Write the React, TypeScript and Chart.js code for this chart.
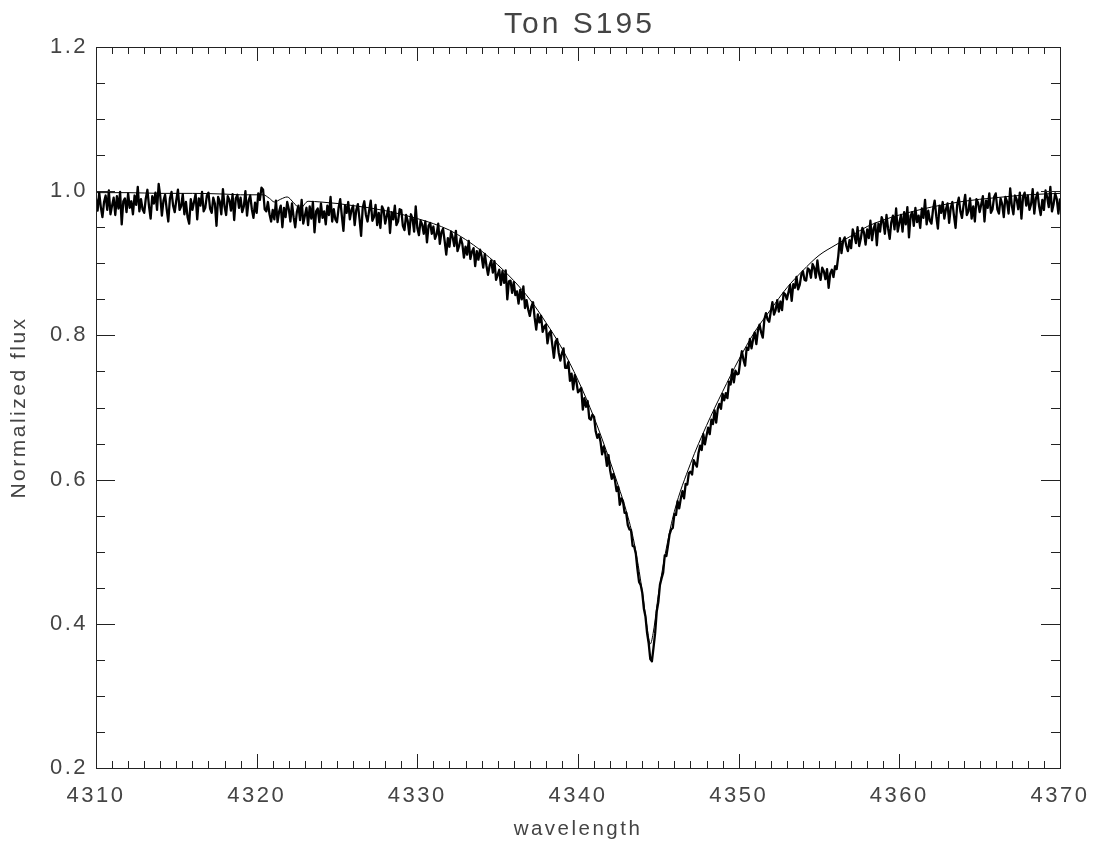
import React, { useEffect, useRef } from "react";
import { Chart, registerables } from "chart.js";

Chart.register(...registerables);

// ---- text ----
const TITLE = "Ton S195";
const X_TITLE = "wavelength";
const Y_TITLE = "Normalized flux";

// ---- axes ----
const X_MIN = 4310;
const X_MAX = 4370;
const X_MAJOR_STEP = 10;
const X_MINOR_STEP = 1;
const Y_MIN = 0.2;
const Y_MAX = 1.2;
const Y_MAJOR_STEP = 0.2;
const Y_MINOR_STEP = 0.05;

// ---- observed spectrum (sampled every 0.1 Å from 4310 Å, one row per Å) ----
const obsStart = 4310;
const obsStep = 0.1;
const obsFlux = [
  0.990, 0.973, 0.998, 0.978, 0.964, 0.985, 0.994, 0.974, 1.001, 0.968, // 4310
  0.980, 0.991, 0.967, 0.993, 0.976, 0.999, 0.954, 0.986, 0.990, 0.971, // 4311
  0.997, 0.977, 0.986, 0.968, 0.994, 0.981, 1.006, 0.972, 0.989, 0.975, // 4312
  0.970, 0.990, 1.002, 0.979, 0.962, 0.993, 0.983, 0.998, 0.974, 1.010, // 4313
  0.993, 0.966, 0.987, 0.995, 0.975, 0.958, 0.990, 0.999, 0.980, 0.971, // 4314
  0.988, 1.002, 0.974, 0.979, 0.996, 0.968, 0.985, 0.964, 0.955, 0.989, // 4315
  0.974, 0.985, 0.996, 0.961, 0.990, 0.980, 0.999, 0.972, 0.977, 0.994, // 4316
  0.998, 0.976, 0.970, 0.991, 0.983, 0.952, 0.992, 0.986, 0.968, 1.003, // 4317
  0.979, 0.967, 0.993, 0.988, 0.973, 0.996, 0.960, 0.990, 0.995, 0.977, // 4318
  0.991, 0.971, 0.979, 1.000, 0.966, 0.987, 0.994, 0.975, 0.963, 0.984, // 4319
  0.970, 0.997, 0.988, 1.005, 1.002, 0.975, 0.972, 0.985, 0.968, 0.958, // 4320
  0.974, 0.961, 0.987, 0.957, 0.972, 0.980, 0.950, 0.977, 0.964, 0.985, // 4321
  0.975, 0.958, 0.983, 0.964, 0.950, 0.971, 0.980, 0.960, 0.988, 0.955, // 4322
  0.966, 0.977, 0.953, 0.979, 0.962, 0.985, 0.943, 0.972, 0.976, 0.957, // 4323
  0.983, 0.963, 0.972, 0.954, 0.980, 0.967, 0.992, 0.958, 0.975, 0.961, // 4324
  0.957, 0.977, 0.989, 0.966, 0.945, 0.980, 0.970, 0.985, 0.961, 0.974, // 4325
  0.980, 0.953, 0.974, 0.982, 0.962, 0.938, 0.977, 0.986, 0.967, 0.958, // 4326
  0.973, 0.987, 0.959, 0.964, 0.981, 0.953, 0.970, 0.949, 0.979, 0.974, // 4327
  0.955, 0.966, 0.977, 0.942, 0.971, 0.961, 0.980, 0.953, 0.958, 0.975, // 4328
  0.974, 0.952, 0.946, 0.967, 0.959, 0.940, 0.968, 0.962, 0.944, 0.979, // 4329
  0.949, 0.939, 0.959, 0.954, 0.941, 0.958, 0.929, 0.952, 0.956, 0.941, // 4330
  0.951, 0.934, 0.940, 0.955, 0.927, 0.943, 0.948, 0.931, 0.912, 0.935, // 4331
  0.923, 0.944, 0.936, 0.924, 0.945, 0.917, 0.924, 0.935, 0.927, 0.908, // 4332
  0.923, 0.912, 0.931, 0.906, 0.916, 0.921, 0.896, 0.917, 0.905, 0.919, // 4333
  0.910, 0.894, 0.913, 0.897, 0.884, 0.897, 0.904, 0.887, 0.903, 0.877, // 4334
  0.884, 0.891, 0.870, 0.889, 0.873, 0.890, 0.850, 0.875, 0.876, 0.859, // 4335
  0.874, 0.856, 0.861, 0.844, 0.863, 0.850, 0.868, 0.838, 0.849, 0.836, // 4336
  0.827, 0.840, 0.846, 0.825, 0.808, 0.829, 0.818, 0.827, 0.805, 0.812, // 4337
  0.815, 0.789, 0.803, 0.806, 0.787, 0.769, 0.791, 0.795, 0.776, 0.765, // 4338
  0.775, 0.782, 0.755, 0.755, 0.763, 0.737, 0.747, 0.725, 0.745, 0.736, // 4339
  0.721, 0.724, 0.727, 0.697, 0.713, 0.701, 0.709, 0.685, 0.683, 0.690, // 4340
  0.687, 0.667, 0.658, 0.663, 0.653, 0.635, 0.646, 0.636, 0.619, 0.634, // 4341
  0.613, 0.601, 0.608, 0.599, 0.584, 0.590, 0.565, 0.574, 0.570, 0.554, // 4342
  0.554, 0.537, 0.531, 0.530, 0.508, 0.507, 0.497, 0.476, 0.458, 0.454, // 4343
  0.443, 0.421, 0.410, 0.387, 0.373, 0.351, 0.348, 0.367, 0.387, 0.417, // 4344
  0.430, 0.454, 0.463, 0.471, 0.495, 0.494, 0.508, 0.524, 0.531, 0.533, // 4345
  0.552, 0.551, 0.570, 0.560, 0.574, 0.584, 0.574, 0.594, 0.593, 0.609, // 4346
  0.611, 0.607, 0.627, 0.622, 0.618, 0.637, 0.647, 0.641, 0.663, 0.649, // 4347
  0.661, 0.672, 0.663, 0.683, 0.677, 0.696, 0.679, 0.698, 0.705, 0.698, // 4348
  0.719, 0.710, 0.720, 0.713, 0.736, 0.732, 0.753, 0.735, 0.751, 0.746, // 4349
  0.747, 0.765, 0.778, 0.766, 0.758, 0.783, 0.780, 0.795, 0.782, 0.795, // 4350
  0.804, 0.788, 0.807, 0.815, 0.804, 0.797, 0.822, 0.831, 0.822, 0.819, // 4351
  0.833, 0.846, 0.829, 0.835, 0.849, 0.833, 0.847, 0.835, 0.859, 0.857, // 4352
  0.850, 0.860, 0.870, 0.848, 0.871, 0.866, 0.881, 0.864, 0.870, 0.884, // 4353
  0.889, 0.877, 0.876, 0.893, 0.891, 0.880, 0.899, 0.894, 0.880, 0.904, // 4354
  0.886, 0.877, 0.894, 0.889, 0.878, 0.892, 0.866, 0.886, 0.891, 0.881, // 4355
  0.896, 0.892, 0.910, 0.935, 0.914, 0.931, 0.936, 0.924, 0.917, 0.932, // 4356
  0.921, 0.947, 0.939, 0.928, 0.950, 0.924, 0.934, 0.949, 0.943, 0.926, // 4357
  0.947, 0.935, 0.959, 0.932, 0.948, 0.955, 0.925, 0.955, 0.944, 0.964, // 4358
  0.958, 0.941, 0.967, 0.948, 0.934, 0.957, 0.966, 0.947, 0.976, 0.944, // 4359
  0.956, 0.967, 0.944, 0.971, 0.954, 0.978, 0.936, 0.966, 0.971, 0.952, // 4360
  0.977, 0.957, 0.966, 0.949, 0.976, 0.963, 0.988, 0.954, 0.973, 0.959, // 4361
  0.955, 0.975, 0.987, 0.965, 0.948, 0.980, 0.970, 0.985, 0.962, 0.975, // 4362
  0.983, 0.956, 0.977, 0.985, 0.966, 0.949, 0.981, 0.991, 0.972, 0.963, // 4363
  0.981, 0.995, 0.967, 0.972, 0.990, 0.962, 0.979, 0.958, 0.989, 0.984, // 4364
  0.971, 0.982, 0.993, 0.958, 0.987, 0.977, 0.997, 0.970, 0.975, 0.992, // 4365
  0.997, 0.975, 0.969, 0.990, 0.982, 0.964, 0.992, 0.986, 0.969, 1.004, // 4366
  0.980, 0.968, 0.994, 0.989, 0.975, 0.998, 0.962, 0.992, 0.998, 0.980, // 4367
  0.994, 0.974, 0.982, 1.003, 0.969, 0.990, 0.998, 0.979, 0.967, 0.988, // 4368
  0.974, 1.001, 0.992, 0.978, 1.006, 0.972, 0.982, 0.997, 0.989, 0.969, // 4369
  0.990,                                                                 // 4370
];

// ---- model spectrum ----
const modelWave = [
  4310, 4312, 4314, 4316, 4318, 4319, 4320.4, 4320.8, 4321.1, 4321.5,
  4321.9, 4322.3, 4322.7, 4323.2, 4324, 4325, 4326, 4327, 4328, 4329,
  4330, 4331, 4332, 4333, 4334, 4335, 4336, 4337, 4338, 4339,
  4340, 4341, 4342, 4342.5, 4343, 4343.5, 4344, 4344.3, 4344.5, 4344.7,
  4345, 4345.5, 4346, 4347, 4348, 4349, 4350, 4351, 4352, 4353,
  4354, 4355, 4356, 4357, 4358, 4359, 4360, 4362, 4364, 4366,
  4368, 4370,
];
const modelFlux = [
  0.998, 0.998, 0.997, 0.997, 0.996, 0.995, 0.995, 0.990, 0.985, 0.989,
  0.992, 0.984, 0.976, 0.986, 0.985, 0.983, 0.980, 0.977, 0.973, 0.968,
  0.962, 0.955, 0.946, 0.933, 0.917, 0.898, 0.876, 0.850, 0.818, 0.782,
  0.738, 0.686, 0.625, 0.592, 0.557, 0.512, 0.445, 0.395, 0.372, 0.390,
  0.440, 0.505, 0.556, 0.622, 0.675, 0.722, 0.766, 0.805, 0.836, 0.866,
  0.890, 0.911, 0.925, 0.938, 0.951, 0.960, 0.967, 0.978, 0.986, 0.991,
  0.995, 0.997,
];

const INK = "#222222";
const TEXT = "#444444";
const FONT = "'Liberation Sans', Arial, sans-serif";

const idlFrame = {
  id: "idlFrame",
  beforeDraw(chart: any) {
    chart.ctx.letterSpacing = "2.5px";
  },
  afterDatasetsDraw(chart: any) {
    const { ctx, chartArea, scales } = chart;
    const { left, right, top, bottom } = chartArea;
    const x = scales.x;
    const y = scales.y;
    ctx.save();
    ctx.strokeStyle = INK;
    ctx.lineWidth = 1;
    ctx.beginPath();
    const nx = Math.round((X_MAX - X_MIN) / X_MINOR_STEP);
    const perX = Math.round(X_MAJOR_STEP / X_MINOR_STEP);
    for (let i = 0; i <= nx; i++) {
      const v = X_MIN + i * X_MINOR_STEP;
      const px = Math.round(x.getPixelForValue(v)) + 0.5;
      const len = i % perX === 0 ? 14 : 7;
      ctx.moveTo(px, bottom);
      ctx.lineTo(px, bottom - len);
      ctx.moveTo(px, top);
      ctx.lineTo(px, top + len);
    }
    const ny = Math.round((Y_MAX - Y_MIN) / Y_MINOR_STEP);
    const perY = Math.round(Y_MAJOR_STEP / Y_MINOR_STEP);
    for (let i = 0; i <= ny; i++) {
      const v = Y_MIN + i * Y_MINOR_STEP;
      const py = Math.round(y.getPixelForValue(v)) + 0.5;
      const len = i % perY === 0 ? 19 : 9;
      ctx.moveTo(left, py);
      ctx.lineTo(left + len, py);
      ctx.moveTo(right, py);
      ctx.lineTo(right - len, py);
    }
    ctx.stroke();
    ctx.strokeRect(Math.round(left) + 0.5, Math.round(top) + 0.5, Math.round(right - left), Math.round(bottom - top));
    ctx.restore();
  },
  afterDraw(chart: any) {
    const { ctx, chartArea } = chart;
    ctx.save();
    ctx.letterSpacing = "3px";
    ctx.fillStyle = TEXT;
    ctx.font = `30px ${FONT}`;
    ctx.textAlign = "center";
    ctx.textBaseline = "alphabetic";
    ctx.fillText(TITLE, (chartArea.left + chartArea.right) / 2 + 1.5, 33);
    ctx.restore();
  },
};

export default function App() {
  const ref = useRef<HTMLCanvasElement | null>(null);

  useEffect(() => {
    if (!ref.current) return;
    const obsPoints = obsFlux.map((f, i) => ({ x: obsStart + i * obsStep, y: f }));
    const modelPoints = modelWave.map((w, i) => ({ x: w, y: modelFlux[i] }));

    const chart = new Chart(ref.current, {
      type: "scatter",
      data: {
        datasets: [
          {
            label: "model",
            data: modelPoints,
            showLine: true,
            borderColor: "#000000",
            borderWidth: 1,
            pointRadius: 0,
            cubicInterpolationMode: "monotone",
            order: 0,
          },
          {
            label: "observed",
            data: obsPoints,
            showLine: true,
            borderColor: "#000000",
            borderWidth: 2.3,
            borderJoinStyle: "round",
            pointRadius: 0,
            tension: 0,
            order: 1,
          },
        ],
      },
      options: {
        responsive: false,
        animation: false,
        devicePixelRatio: 1,
        layout: { padding: { top: 47, right: 40, bottom: 0, left: 0 } },
        plugins: {
          legend: { display: false },
          tooltip: { enabled: false },
          title: { display: false },
        },
        scales: {
          x: {
            type: "linear",
            min: X_MIN,
            max: X_MAX,
            grid: { display: false, drawTicks: false },
            border: { display: false },
            ticks: {
              stepSize: X_MAJOR_STEP,
              padding: 15,
              color: TEXT,
              font: { family: FONT, size: 22 },
              callback: (v: any) => String(v),
              maxRotation: 0,
            },
            title: {
              display: true,
              text: X_TITLE,
              color: TEXT,
              font: { family: FONT, size: 20.5 },
              padding: { top: 0, bottom: 0 },
            },
            afterFit: (s: any) => {
              s.height = 74;
            },
          },
          y: {
            type: "linear",
            min: Y_MIN,
            max: Y_MAX,
            grid: { display: false, drawTicks: false },
            border: { display: false },
            ticks: {
              stepSize: Y_MAJOR_STEP,
              padding: 8,
              color: TEXT,
              font: { family: FONT, size: 22 },
              callback: (v: any) => Number(v).toFixed(1),
            },
            title: {
              display: true,
              text: Y_TITLE,
              color: TEXT,
              font: { family: FONT, size: 21 },
              padding: { top: 7, bottom: 0 },
            },
            afterFit: (s: any) => {
              s.width = 96;
            },
          },
        },
      },
      plugins: [idlFrame],
    });
    return () => chart.destroy();
  }, []);

  return (
    <div style={{ position: "absolute", left: 0, top: 0, width: 1100, height: 842, background: "#ffffff" }}>
      <canvas ref={ref} width={1100} height={842} />
    </div>
  );
}
